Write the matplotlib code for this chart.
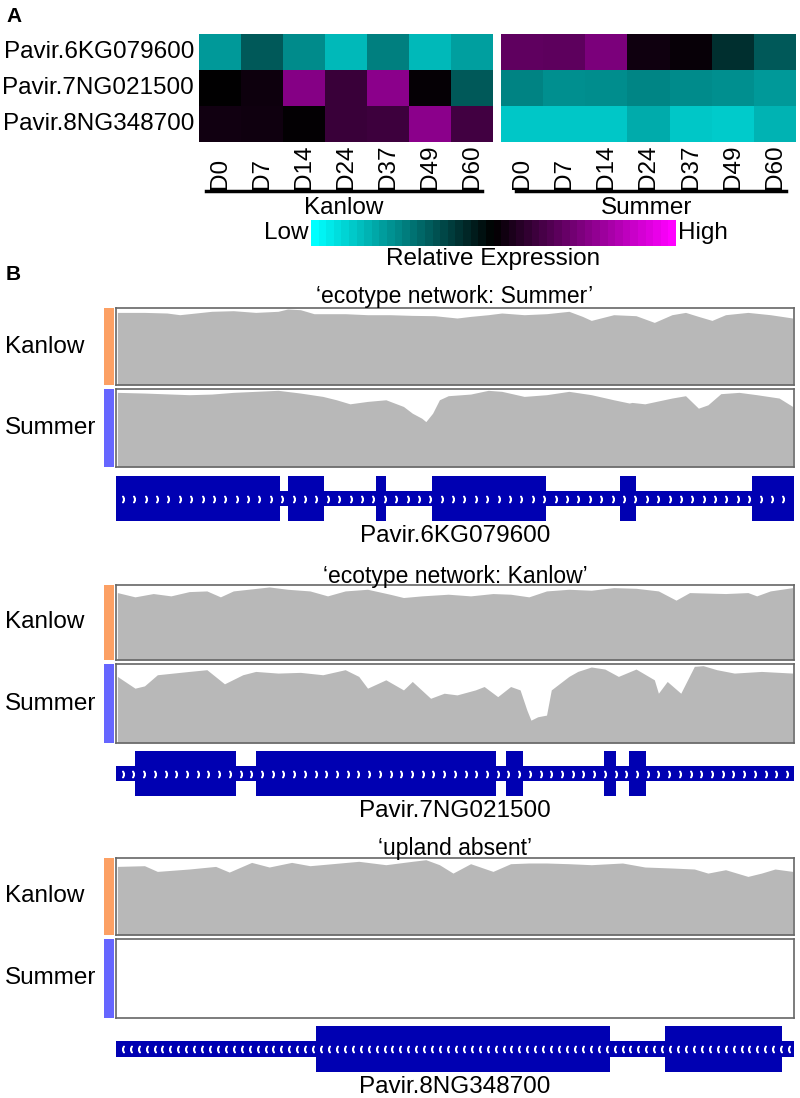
import numpy as np
import matplotlib
matplotlib.use('Agg')
import matplotlib.pyplot as plt
from matplotlib.colors import LinearSegmentedColormap, Normalize
from matplotlib.colorbar import ColorbarBase
from matplotlib.lines import Line2D
from matplotlib.transforms import blended_transform_factory

plt.rcParams['font.family'] = ['Liberation Sans', 'DejaVu Sans']

W, H = 800, 1098

# ---- panel A data: relative expression (-1 = low/cyan, 1 = high/magenta)
gene_names = ['Pavir.6KG079600', 'Pavir.7NG021500', 'Pavir.8NG348700']
days = ['D0', 'D7', 'D14', 'D24', 'D37', 'D49', 'D60']
kanlow_expr = [[-0.60, -0.35, -0.54, -0.72, -0.50, -0.72, -0.62],
               [0.00, 0.05, 0.52, 0.22, 0.54, 0.02, -0.35],
               [0.07, 0.06, 0.01, 0.22, 0.24, 0.54, 0.25]]
summer_expr = [[0.37, 0.36, 0.48, 0.06, 0.03, -0.18, -0.35],
               [-0.51, -0.56, -0.55, -0.52, -0.54, -0.56, -0.60],
               [-0.78, -0.78, -0.78, -0.67, -0.78, -0.79, -0.70]]

# ---- panel B data: coverage (fraction of track height) along the gene window (%)
cov1_k_pos = [0.2, 4.2, 7.5, 9.4, 14.1, 17.3, 20.6, 23.9, 25.3, 27.2, 29.2, 33.8, 37.1, 40.4, 43.7, 47.0, 50.3, 52.3,
              54.9, 56.9, 60.2, 63.5, 66.8, 68.8, 70.1, 73.4, 76.7, 79.4, 82.0, 84.0, 85.9, 87.9, 89.9, 93.2, 96.5, 99.8]
cov1_k = [0.943, 0.943, 0.935, 0.913, 0.957, 0.965, 0.943, 0.957, 0.987, 0.978, 0.926, 0.926, 0.913, 0.913, 0.904, 0.900,
          0.870, 0.891, 0.913, 0.935, 0.913, 0.926, 0.957, 0.891, 0.839, 0.913, 0.900, 0.813, 0.913, 0.943, 0.891, 0.839,
          0.913, 0.943, 0.913, 0.870]
cov1_s_pos = [0.2, 4.2, 10.8, 14.1, 17.3, 23.9, 27.2, 30.5, 32.5, 34.5, 37.1, 39.8, 42.4, 43.7, 45.1, 45.7, 46.7, 47.7,
              49.0, 52.3, 54.9, 56.9, 60.2, 63.5, 66.8, 70.1, 73.4, 75.7, 76.1, 78.0, 82.0, 84.0, 85.9, 87.3, 89.2, 91.9,
              94.5, 97.8, 99.8]
cov1_s = [0.957, 0.948, 0.927, 0.935, 0.957, 0.983, 0.948, 0.905, 0.862, 0.810, 0.841, 0.862, 0.776, 0.690, 0.625, 0.582,
          0.690, 0.862, 0.914, 0.935, 0.983, 0.970, 0.905, 0.927, 0.970, 0.927, 0.862, 0.820, 0.828, 0.810, 0.884, 0.914,
          0.754, 0.797, 0.940, 0.957, 0.927, 0.884, 0.776]
cov2_k_pos = [0.2, 2.8, 5.5, 8.1, 10.8, 13.4, 15.4, 17.3, 22.6, 25.3, 28.6, 31.2, 33.8, 37.1, 40.4, 42.4, 45.1, 49.0, 52.3,
              55.6, 58.2, 60.9, 63.5, 66.8, 70.1, 73.4, 76.7, 80.0, 82.6, 84.6, 89.9, 93.2, 94.5, 96.5, 99.8]
cov2_k = [0.899, 0.842, 0.886, 0.855, 0.912, 0.921, 0.842, 0.921, 0.974, 0.943, 0.921, 0.855, 0.921, 0.943, 0.877, 0.833,
          0.855, 0.877, 0.855, 0.886, 0.877, 0.842, 0.921, 0.943, 0.930, 0.965, 0.956, 0.921, 0.798, 0.899, 0.886, 0.899,
          0.855, 0.921, 0.965]
cov2_s_pos = [0.2, 2.8, 4.2, 6.1, 10.8, 13.4, 16.0, 18.7, 20.6, 23.9, 27.2, 30.5, 33.8, 35.8, 37.1, 39.8, 42.4, 43.7,
              46.4, 48.4, 50.3, 53.0, 54.3, 56.3, 58.2, 59.6, 60.6, 61.2, 62.2, 63.5, 64.2, 66.8, 68.1, 70.1, 72.1, 74.1,
              76.7, 79.4, 80.0, 81.3, 83.3, 85.3, 86.6, 88.6, 91.2, 95.2, 99.8]
cov2_s = [0.843, 0.694, 0.723, 0.864, 0.906, 0.928, 0.749, 0.864, 0.906, 0.885, 0.894, 0.864, 0.928, 0.843, 0.694, 0.800,
          0.672, 0.779, 0.566, 0.630, 0.609, 0.672, 0.715, 0.587, 0.715, 0.672, 0.417, 0.289, 0.332, 0.353, 0.672, 0.843,
          0.906, 0.962, 0.936, 0.843, 0.936, 0.800, 0.630, 0.779, 0.630, 0.970, 0.979, 0.928, 0.885, 0.906, 0.885]
cov3_k_pos = [0.2, 4.2, 6.1, 10.8, 14.7, 16.7, 20.0, 22.6, 25.9, 28.6, 31.9, 35.8, 39.8, 43.7, 45.7, 47.7, 49.7, 52.3,
              55.6, 58.2, 60.9, 63.5, 66.8, 70.1, 74.7, 78.0, 82.0, 85.3, 87.3, 89.9, 93.2, 95.2, 97.2, 99.8]
cov3_k = [0.891, 0.900, 0.826, 0.857, 0.891, 0.817, 0.943, 0.883, 0.943, 0.900, 0.926, 0.957, 0.913, 0.957, 0.978, 0.913,
          0.804, 0.926, 0.826, 0.926, 0.935, 0.935, 0.926, 0.913, 0.935, 0.883, 0.870, 0.857, 0.804, 0.848, 0.761, 0.804,
          0.857, 0.826]
cov3_s_pos = [0.0, 100.0]
cov3_s = [0.0, 0.0]

# gene models: exon (start, end) in % of the window
gene1_exons = [(0, 24.2), (25.3, 30.7), (38.3, 39.8), (46.6, 63.4), (74.3, 76.7), (93.8, 100)]
gene2_exons = [(2.8, 17.7), (20.6, 56.0), (57.5, 60.0), (72.0, 73.8), (75.7, 78.2)]
gene3_exons = [(29.5, 72.9), (81.0, 98.3)]

FS = 17.5

fig = plt.figure(figsize=(W / 100, H / 100), dpi=100)


def box(x0, y0, x1, y1):
    return fig.add_axes([x0 / W, 1 - y1 / H, (x1 - x0) / W, (y1 - y0) / H])


def txt(x, y, s, **kw):
    return fig.text(x / W, 1 - y / H, s, **kw)


cmap = LinearSegmentedColormap.from_list('cbm', ['#00ffff', '#000000', '#ff00ff'])

# ---------------- panel A
txt(6, 16, 'A', fontsize=15, fontweight='bold', va='center')
for expr, (x0, x1), uline, grp, gx in [(kanlow_expr, (199, 493), (206, 482), 'Kanlow', 344),
                                     (summer_expr, (501, 796), (516, 786), 'Summer', 647)]:
    ax = box(x0, 34, x1, 142)
    ax.imshow(np.array(expr), cmap=cmap, vmin=-1, vmax=1, aspect='auto', interpolation='nearest')
    ax.axis('off')
    tr = blended_transform_factory(ax.transData, fig.transFigure)
    for i, d in enumerate(days):
        ax.text(i, 1 - 189 / H, d, transform=tr, rotation=90, ha='center', va='bottom', fontsize=FS)
    fig.add_artist(Line2D([uline[0] / W, uline[1] / W], [1 - 191 / H] * 2, color='black', lw=2.5))
    txt(gx, 208, grp, ha='center', va='center', fontsize=FS)

for i, g in enumerate(gene_names):
    txt(194, 52 + 36 * i, g, ha='right', va='center', fontsize=FS)

cax = box(311, 220, 676, 246)
cb = ColorbarBase(cax, cmap=cmap.resampled(48), norm=Normalize(-1, 1), orientation='horizontal')
cb.outline.set_visible(False)
cax.set_xticks([])
txt(309, 233, 'Low', ha='right', va='center', fontsize=FS)
txt(678, 233, 'High', ha='left', va='center', fontsize=FS)
txt(493, 259, 'Relative Expression', ha='center', va='center', fontsize=FS)

# ---------------- panel B
txt(6, 275, 'B', fontsize=15, fontweight='bold', va='center')

panels = [
    ('\u2018ecotype network: Summer\u2019', 297, (308, 385), (389, 467), (476, 521), 536,
     (cov1_k_pos, cov1_k), (cov1_s_pos, cov1_s), gene1_exons, 'Pavir.6KG079600', ')', 1.68),
    ('\u2018ecotype network: Kanlow\u2019', 576, (585, 660), (664, 743), (751, 796), 811,
     (cov2_k_pos, cov2_k), (cov2_s_pos, cov2_s), gene2_exons, 'Pavir.7NG021500', ')', 1.58),
    ('\u2018upland absent\u2019', 848, (858, 935), (939, 1018), (1026, 1072), 1087,
     (cov3_k_pos, cov3_k), (cov3_s_pos, cov3_s), gene3_exons, 'Pavir.8NG348700', '(', 1.17),
]

for title, ty, ky, sy, gy, gly, kcov, scov, exons, gname, arrow, step in panels:
    txt(455, ty, title, ha='center', va='center', fontsize=16.5)
    for (y0, y1), cov, lab, col in [(ky, kcov, 'Kanlow', '#fca064'), (sy, scov, 'Summer', '#6666ff')]:
        ax = box(116, y0, 794, y1)
        ax.fill_between(cov[0], 0, cov[1], color='#b8b8b8', lw=0)
        ax.set_xlim(0, 100)
        ax.set_ylim(0, 1)
        ax.set_xticks([])
        ax.set_yticks([])
        for sp in ax.spines.values():
            sp.set_color('#666666')
            sp.set_linewidth(1.2)
        bar = box(104, y0, 114, y1)
        bar.set_facecolor(col)
        bar.set_xticks([])
        bar.set_yticks([])
        for sp in bar.spines.values():
            sp.set_visible(False)
        txt(5, (y0 + y1) / 2, lab, ha='left', va='center', fontsize=FS)

    gax = box(116, gy[0], 794, gy[1])
    gax.barh(0.5, 100, left=0, height=0.34, color='#0000b2', lw=0)
    for s, e in exons:
        gax.barh(0.5, e - s, left=s, height=1.0, color='#0000b2', lw=0)
    xs = np.arange(1.0, 99.5, step)
    gax.plot(xs, np.full(len(xs), 0.5), ls='none', marker='$' + arrow + '$', ms=4.5, color='white')
    gax.set_xlim(0, 100)
    gax.set_ylim(0, 1)
    gax.axis('off')
    txt(455, gly, gname, ha='center', va='center', fontsize=FS)

fig.savefig('out.png', dpi=100)
